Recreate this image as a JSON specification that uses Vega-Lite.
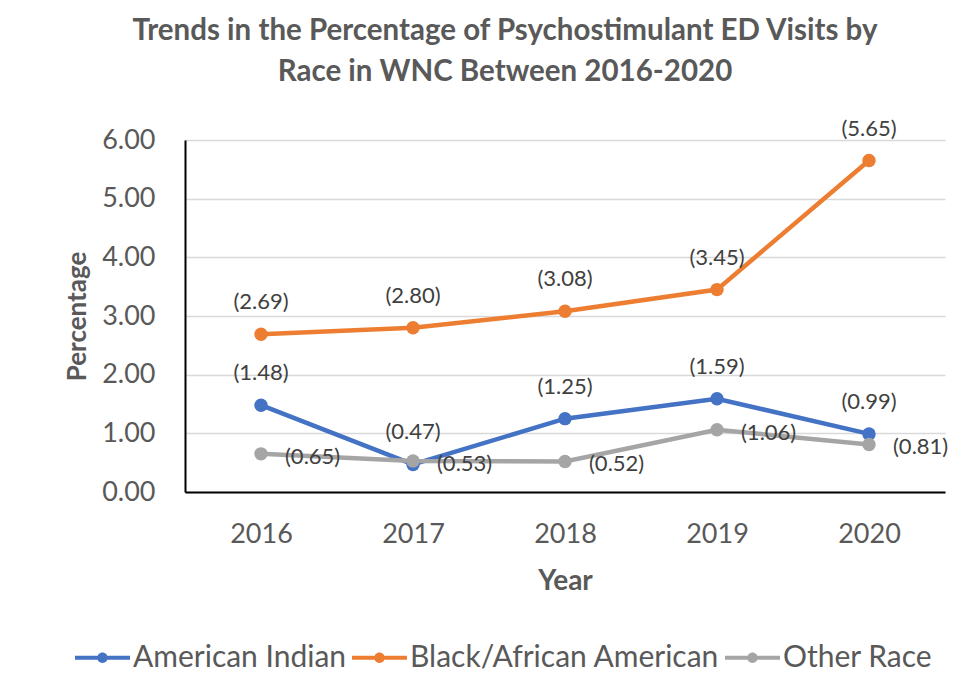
{
  "$schema": "https://vega.github.io/schema/vega-lite/v6.json",
  "autosize": {"type": "none"},
  "width": 760,
  "height": 352,
  "padding": {"left": 185, "top": 140, "right": 19, "bottom": 208},
  "background": "white",
  "config": {
    "font": "Lato",
    "view": {"stroke": null},
    "axis": {"labelColor": "#595959", "titleColor": "#595959", "labelFont": "Lato", "titleFont": "Lato"}
  },
  "title": {
    "text": ["Trends in the Percentage of Psychostimulant ED Visits by", "Race in WNC Between 2016-2020"],
    "font": "Lato",
    "fontSize": 29.5,
    "fontWeight": "bold",
    "color": "#595959",
    "lineHeight": 41,
    "anchor": "middle",
    "frame": "group",
    "dx": -60,
    "offset": 30
  },
  "data": {
    "values": [
      {"year": "2016", "race": "American Indian", "value": 1.48, "label": "(1.48)"},
      {"year": "2017", "race": "American Indian", "value": 0.47, "label": "(0.47)"},
      {"year": "2018", "race": "American Indian", "value": 1.25, "label": "(1.25)"},
      {"year": "2019", "race": "American Indian", "value": 1.59, "label": "(1.59)"},
      {"year": "2020", "race": "American Indian", "value": 0.99, "label": "(0.99)"},
      {"year": "2016", "race": "Black/African American", "value": 2.69, "label": "(2.69)"},
      {"year": "2017", "race": "Black/African American", "value": 2.80, "label": "(2.80)"},
      {"year": "2018", "race": "Black/African American", "value": 3.08, "label": "(3.08)"},
      {"year": "2019", "race": "Black/African American", "value": 3.45, "label": "(3.45)"},
      {"year": "2020", "race": "Black/African American", "value": 5.65, "label": "(5.65)"},
      {"year": "2016", "race": "Other Race", "value": 0.65, "label": "(0.65)"},
      {"year": "2017", "race": "Other Race", "value": 0.53, "label": "(0.53)"},
      {"year": "2018", "race": "Other Race", "value": 0.52, "label": "(0.52)"},
      {"year": "2019", "race": "Other Race", "value": 1.06, "label": "(1.06)"},
      {"year": "2020", "race": "Other Race", "value": 0.81, "label": "(0.81)"}
    ]
  },
  "encoding": {
    "x": {
      "field": "year",
      "type": "ordinal",
      "scale": {"type": "point", "padding": 0.5},
      "axis": {
        "title": "Year",
        "labelAngle": 0,
        "labelFontSize": 27,
        "labelPadding": 29,
        "ticks": false,
        "domainColor": "black",
        "domainWidth": 2,
        "titleFontSize": 28,
        "titleFontWeight": "bold",
        "titlePadding": 20,
        "grid": false
      }
    },
    "y": {
      "field": "value",
      "type": "quantitative",
      "scale": {"domain": [0, 6], "nice": false},
      "axis": {
        "title": "Percentage",
        "values": [0, 1, 2, 3, 4, 5, 6],
        "format": ".2f",
        "labelFontSize": 27,
        "labelPadding": 30,
        "ticks": false,
        "domainColor": "black",
        "domainWidth": 2,
        "gridColor": "#d9d9d9",
        "gridWidth": 1.5,
        "titleFontSize": 26,
        "titleFontWeight": "bold",
        "titlePadding": 11
      }
    }
  },
  "layer": [
    {
      "mark": {"type": "line", "strokeWidth": 4.5, "point": {"filled": true, "size": 180, "opacity": 1}},
      "encoding": {
        "color": {
          "field": "race",
          "type": "nominal",
          "scale": {
            "domain": ["American Indian", "Black/African American", "Other Race"],
            "range": ["#4472C4", "#ED7D31", "#A5A5A5"]
          },
          "legend": {
            "title": null,
            "orient": "none",
            "direction": "horizontal",
            "legendX": -110,
            "legendY": 490,
            "padding": 0,
            "columnPadding": 5,
            "labelOffset": 3,
            "labelFontSize": 30,
            "labelLimit": 0,
            "labelColor": "#595959",
            "labelFont": "Lato",
            "symbolSize": 3025,
            "symbolStrokeWidth": 0,
            "symbolType": "M-1,-0.075H-0.18V0.075H-1Z M0.18,-0.075H1V0.075H0.18Z M-0.19,0A0.19,0.19 0 1,1 0.19,0A0.19,0.19 0 1,1 -0.19,0Z",
            "encode": {"symbols": {"update": {"fill": {"scale": "color", "field": "value"}, "opacity": {"value": 1}}}}
          }
        }
      }
    },
    {
      "transform": [{"filter": "datum.race !== 'Other Race'"}],
      "mark": {"type": "text", "dy": -32, "baseline": "middle", "align": "center", "fontSize": 22, "color": "#404040", "font": "Lato"},
      "encoding": {"text": {"field": "label"}}
    },
    {
      "transform": [{"filter": "datum.race === 'Other Race'"}],
      "mark": {"type": "text", "dx": 24, "dy": 3, "baseline": "middle", "align": "left", "fontSize": 22, "color": "#404040", "font": "Lato"},
      "encoding": {"text": {"field": "label"}}
    }
  ]
}
